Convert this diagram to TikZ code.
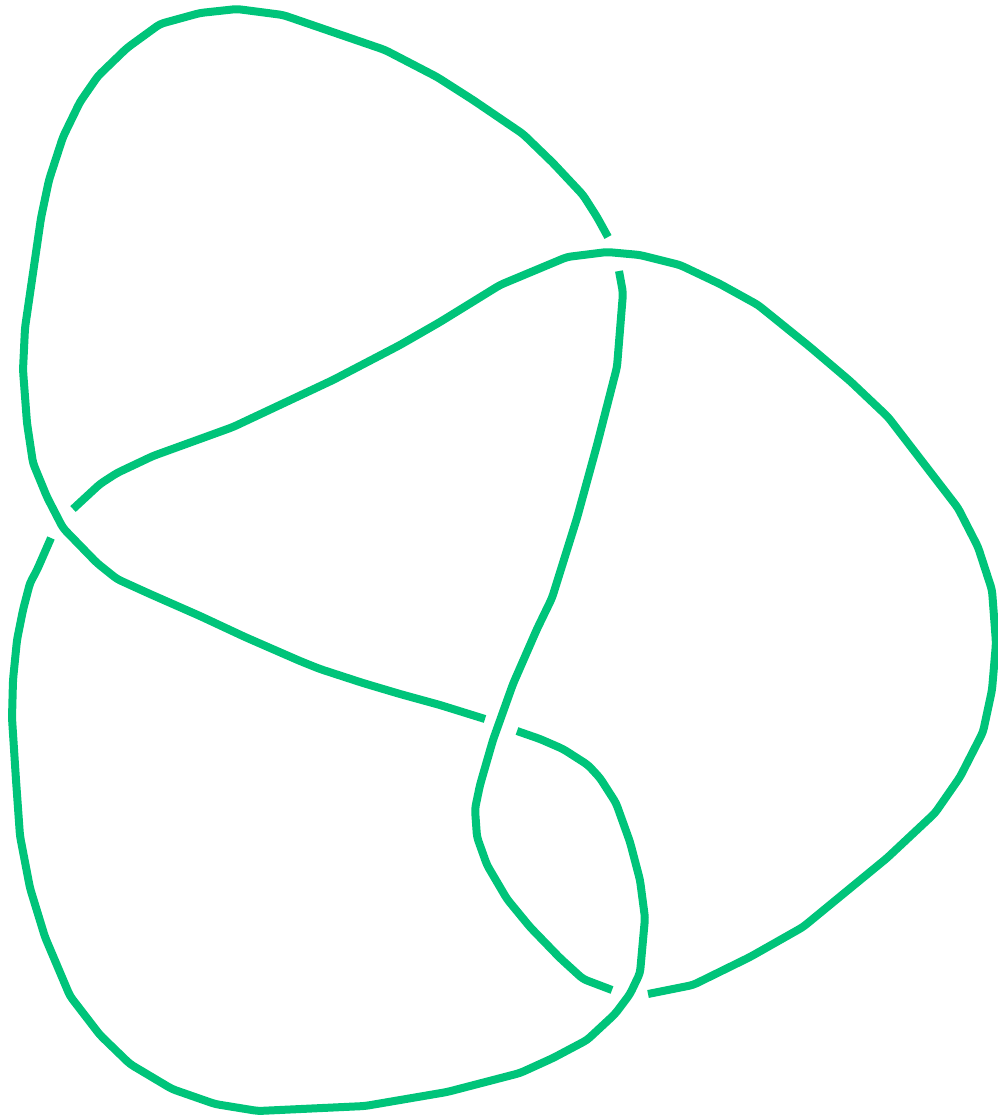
\documentclass[tikz,border=0pt]{standalone}
\definecolor{knot}{RGB}{0,196,122}
\begin{document}
\begin{tikzpicture}[x=1pt,y=-1pt,strand/.style={draw=knot,line width=8pt,line cap=butt,rounded corners=4pt}]
\useasboundingbox (0,0) rectangle (997,1120);
% arc A
\draw[strand] (619,271) -- (623,293) -- (617,367) -- (597,445) -- (577,518) -- (552,598) -- (537,629) -- (513,684) -- (493,740) -- (480,785) -- (475,809) -- (477,837) -- (487,865) -- (507,899) -- (530,927) -- (560,958) -- (583,979) -- (612,990);
% arc B
\draw[strand] (648,994) -- (693,985) -- (750,957) -- (803,927) -- (887,858) -- (935,813) -- (960,777) -- (983,732) -- (992,690) -- (996,643) -- (992,590) -- (978,547) -- (958,508) -- (888,417) -- (850,381) -- (810,347) -- (758,305) -- (720,284) -- (680,265) -- (640,255) -- (607,252) -- (567,257) -- (500,285) -- (440,322) -- (400,345) -- (333,380) -- (233,427) -- (153,456) -- (117,473) -- (100,484) -- (73,509);
% arc C
\draw[strand] (51,538) -- (37,570) -- (30,583) -- (23,610) -- (17,640) -- (13,680) -- (12,718) -- (16,780) -- (20,836) -- (30,888) -- (45,937) -- (70,996) -- (100,1035) -- (130,1064) -- (172,1089) -- (215,1104) -- (258,1111) -- (365,1106) -- (447,1092) -- (520,1073) -- (553,1058) -- (587,1040) -- (615,1014) -- (630,994) -- (640,973) -- (645,918) -- (640,880) -- (630,842) -- (616,803) -- (600,778) -- (588,765) -- (563,749) -- (540,739) -- (517,731);
% arc D
\draw[strand] (485,719) -- (440,705) -- (400,694) -- (363,683) -- (320,669) -- (300,661) -- (245,637) -- (200,616) -- (150,594) -- (117,579) -- (97,563) -- (63,528) -- (47,497) -- (33,463) -- (27,423) -- (23,370) -- (25,328) -- (41,218) -- (49,180) -- (63,137) -- (80,102) -- (98,76) -- (127,48) -- (160,24) -- (200,13) -- (237,9) -- (283,15) -- (385,50) -- (437,77) -- (473,100) -- (523,134) -- (553,163) -- (583,195) -- (597,217) -- (608,237);
\end{tikzpicture}
\end{document}
